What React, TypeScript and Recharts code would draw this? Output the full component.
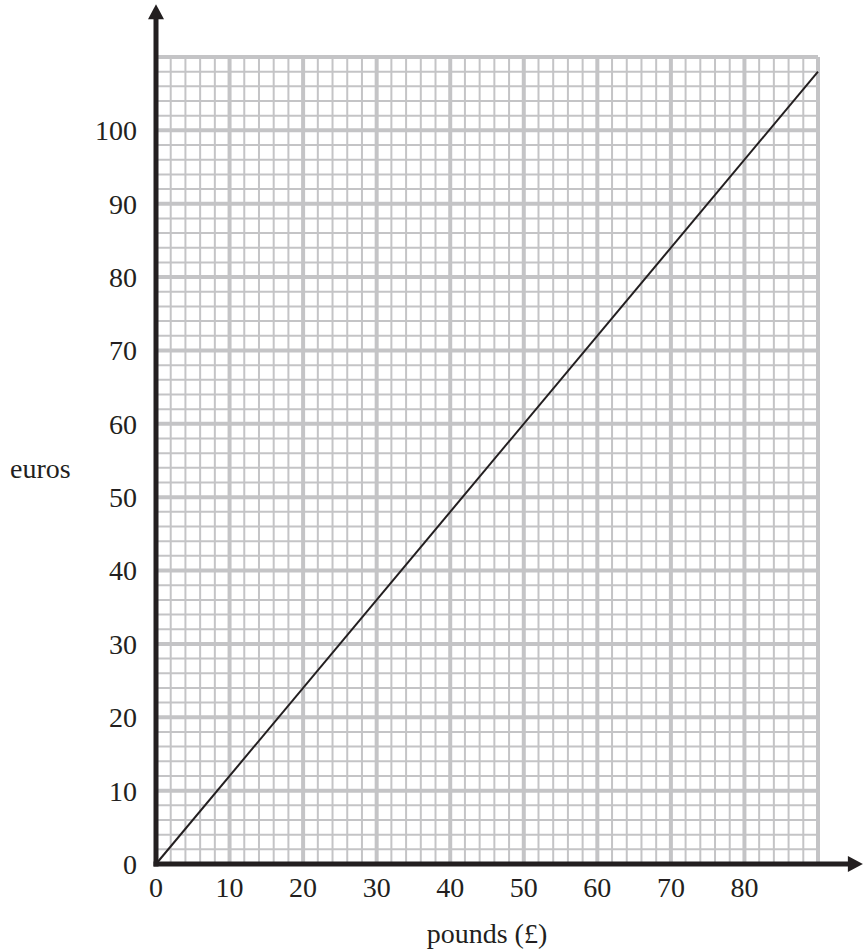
import { LineChart, Line, XAxis, YAxis, CartesianGrid, ReferenceLine } from 'recharts'

const pounds = [0, 90]
const euros = [0, 108]

const xTicks = [0, 10, 20, 30, 40, 50, 60, 70, 80]
const yTicks = [0, 10, 20, 30, 40, 50, 60, 70, 80, 90, 100]

const xMajor = [0, 10, 20, 30, 40, 50, 60, 70, 80, 90]
const yMajor = [0, 10, 20, 30, 40, 50, 60, 70, 80, 90, 100, 110]
const xMinor = Array.from({ length: 46 }, (_, i) => i * 2)
const yMinor = Array.from({ length: 56 }, (_, i) => i * 2)

// where the arrow tips of the axes end (data units)
const xArrowEnd = 96.1
const yArrowEnd = 117.2

const data = pounds.map((p, i) => ({ pounds: p, euros: euros[i] }))

const ink = '#231f20'
const gridColor = '#c4c4c6'
const font = '"Liberation Serif", "Times New Roman", serif'
const fontSize = 28

function Arrow(props: any) {
  const { x1, y1, x2, y2 } = props
  const dx = x2 - x1
  const dy = y2 - y1
  const len = Math.hypot(dx, dy) || 1
  const ux = dx / len
  const uy = dy / len
  const head = 15
  const half = 8
  const bx = x2 - ux * head
  const by = y2 - uy * head
  const pts = [
    `${x2},${y2}`,
    `${bx - uy * half},${by + ux * half}`,
    `${bx + uy * half},${by - ux * half}`,
  ].join(' ')
  return (
    <g>
      <line x1={x1} y1={y1} x2={bx + ux * 2} y2={by + uy * 2} stroke={ink} strokeWidth={5} strokeLinecap="square" />
      <polygon points={pts} fill={ink} />
    </g>
  )
}

export default function App() {
  return (
    <div style={{ position: 'absolute', left: 0, top: 0, background: '#fff' }}>
      <LineChart
        width={864}
        height={952}
        data={data}
        margin={{ top: 57, right: 46, left: 0, bottom: 0 }}
      >
        <CartesianGrid
          stroke={gridColor}
          strokeWidth={2}
          verticalValues={xMinor}
          horizontalValues={yMinor}
        />
        <CartesianGrid
          stroke={gridColor}
          strokeWidth={4}
          verticalValues={xMajor}
          horizontalValues={yMajor}
        />
        <XAxis
          dataKey="pounds"
          type="number"
          domain={[0, 90]}
          ticks={xTicks}
          interval={0}
          height={88}
          axisLine={false}
          tickLine={false}
          tickSize={0}
          tickMargin={13}
          tick={{ fill: ink, fontSize, fontFamily: font }}
          label={{
            value: 'pounds (£)',
            position: 'insideBottom',
            offset: 9,
            fill: ink,
            fontSize,
            fontFamily: font,
          }}
        />
        <YAxis
          type="number"
          domain={[0, 110]}
          ticks={yTicks}
          interval={0}
          width={156}
          axisLine={false}
          tickLine={false}
          tickSize={0}
          tickMargin={19}
          tick={{ fill: ink, fontSize, fontFamily: font }}
          label={{
            value: 'euros',
            position: 'insideLeft',
            offset: 10,
            dy: 8,
            fill: ink,
            fontSize,
            fontFamily: font,
            textAnchor: 'start',
          }}
        />
        <Line
          dataKey="euros"
          stroke={ink}
          strokeWidth={2}
          dot={false}
          isAnimationActive={false}
        />
        <ReferenceLine
          segment={[{ x: 0, y: 0 }, { x: xArrowEnd, y: 0 }]}
          ifOverflow="visible"
          shape={Arrow}
        />
        <ReferenceLine
          segment={[{ x: 0, y: 0 }, { x: 0, y: yArrowEnd }]}
          ifOverflow="visible"
          shape={Arrow}
        />
      </LineChart>
    </div>
  )
}
